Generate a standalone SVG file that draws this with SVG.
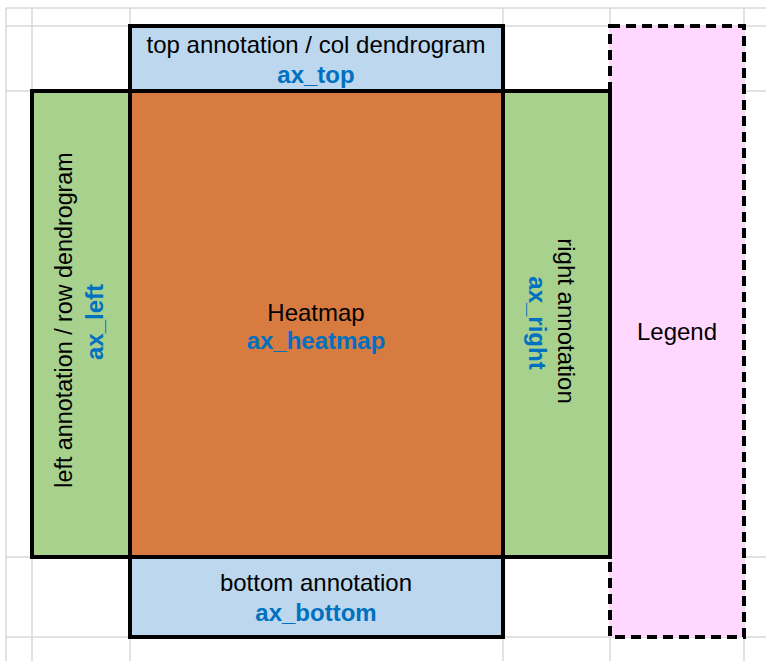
<svg xmlns="http://www.w3.org/2000/svg" width="766" height="661" viewBox="0 0 766 661">
<style>
.grid{stroke:#d9d9d9;stroke-width:1.5;fill:none}
.box{stroke:#000;stroke-width:4}
.t{font-family:"Liberation Sans",Arial,sans-serif;font-size:24px;fill:#000;text-anchor:middle}
.b{font-family:"Liberation Sans",Arial,sans-serif;font-size:24px;font-weight:bold;fill:#0070c0;text-anchor:middle}
</style>
<rect width="766" height="661" fill="#fff"/>
<g id="grid" class="grid">
<line x1="6" y1="8" x2="766" y2="8"/>
<line x1="6" y1="26" x2="766" y2="26"/>
<line x1="6" y1="91" x2="766" y2="91"/>
<line x1="6" y1="557" x2="766" y2="557"/>
<line x1="6" y1="637" x2="766" y2="637"/>
<line x1="6" y1="8" x2="6" y2="661"/>
<line x1="32" y1="8" x2="32" y2="661"/>
<line x1="130" y1="8" x2="130" y2="661"/>
<line x1="503" y1="8" x2="503" y2="661"/>
<line x1="610" y1="8" x2="610" y2="661"/>
<line x1="744" y1="8" x2="744" y2="661"/>
</g>
<g id="legend">
<rect x="610" y="26" width="134" height="611" fill="#ffd7ff" stroke="#000" stroke-width="4" stroke-dasharray="10,6"/>
<text class="t" x="677" y="340">Legend</text>
</g>
<g id="ax_top">
<rect class="box" x="130" y="26" width="373" height="65" fill="#bdd7ee"/>
<text class="t" x="316" y="53">top annotation / col dendrogram</text>
<text class="b" x="316" y="83">ax_top</text>
</g>
<g id="ax_left">
<rect class="box" x="32" y="91" width="98" height="466" fill="#a9d18e"/>
<text class="t" style="font-size:23.3px" transform="translate(72,320) rotate(-90)">left annotation / row dendrogram</text>
<text class="b" transform="translate(103,322) rotate(-90)">ax_left</text>
</g>
<g id="ax_right">
<rect class="box" x="503" y="91" width="107" height="466" fill="#a9d18e"/>
<text class="t" transform="translate(558,321) rotate(90)">right annotation</text>
<text class="b" transform="translate(529,323) rotate(90)">ax_right</text>
</g>
<g id="ax_heatmap">
<rect class="box" x="130" y="91" width="373" height="466" fill="#d77b40"/>
<text class="t" x="316" y="321">Heatmap</text>
<text class="b" x="316" y="349">ax_heatmap</text>
</g>
<g id="ax_bottom">
<rect class="box" x="130" y="557" width="373" height="80" fill="#bdd7ee"/>
<text class="t" x="316" y="591">bottom annotation</text>
<text class="b" x="316" y="621">ax_bottom</text>
</g>
<g id="connectors"></g>
</svg>
